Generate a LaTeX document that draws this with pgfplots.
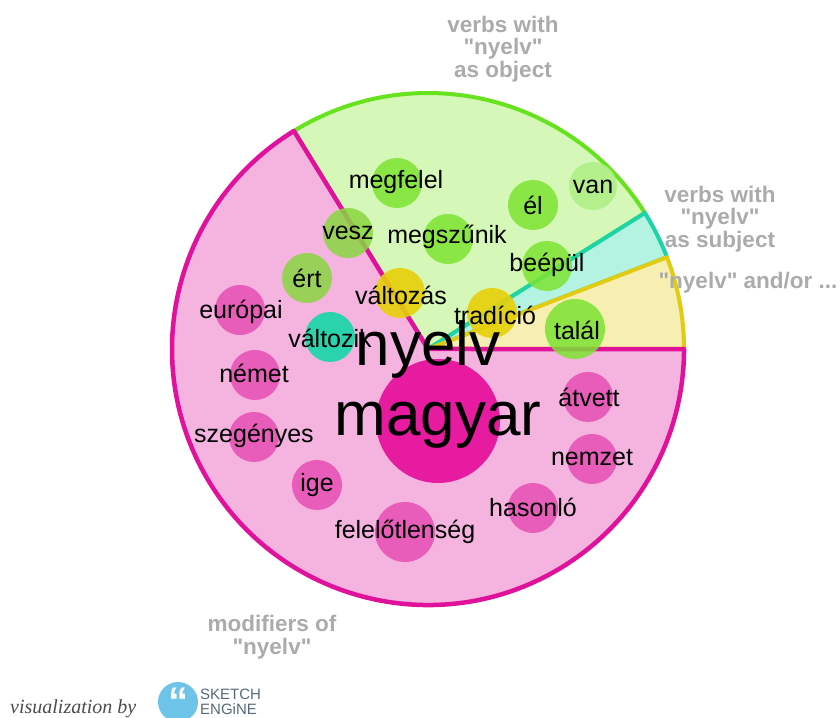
\documentclass[border=0pt]{standalone}
\usepackage{pgfplots}
\pgfplotsset{compat=1.18}
\usepackage{pgfplotstable}
\usepackage{fontspec}
\setmainfont{Liberation Sans}
\newfontfamily\serifit{Liberation Serif}

\definecolor{pinkfill}{HTML}{F5B3E0}
\definecolor{pinkline}{HTML}{E0119B}
\definecolor{greenfill}{HTML}{D5F8B8}
\definecolor{greenline}{HTML}{66E21E}
\definecolor{cyanfill}{HTML}{B4F2E2}
\definecolor{cyanline}{HTML}{1CD4A6}
\definecolor{yelfill}{HTML}{F7EFB2}
\definecolor{yelline}{HTML}{E2CC12}
\definecolor{bpink}{HTML}{E64DB4}
\definecolor{bmag}{HTML}{E6139C}
\definecolor{bgreen}{HTML}{7CE332}
\definecolor{blgreen}{HTML}{AEEF84}
\definecolor{bolive}{HTML}{8AD641}
\definecolor{byel}{HTML}{E6D008}
\definecolor{bteal}{HTML}{16D7A7}
\definecolor{titlegray}{HTML}{ABABAB}
\definecolor{logoblue}{HTML}{6EC3E8}
\definecolor{logotext}{HTML}{56687A}

\newcommand{\q}{\textquotedbl}

% bubbles: centre (px from left, px from bottom), radius, group
\pgfplotstableread{
x   y   r  cls
397 534 25 gr
593 531 24 lg
533 512 25 gr
348 484 25 ol
448 478 25 gr
547 451 25 gr
307 439 25 ol
400 424 25 ye
240 407 25 pk
492 404 25 ye
575 388 30 gr
330 380 25 te
255 342 25 pk
254 280 25 pk
438 296 62 mg
588 320 25 pk
592 258 25 pk
317 232 25 pk
533 209 25 pk
405 185 30 pk
}\bubbles

\pgfplotstableread{
x   y   label
396 535 megfelel
593 530 van
533 512 él
348 484 vesz
447 480 megszűnik
547 452 beépül
307 439 ért
401 422 változás
241 405 európai
495 402 tradíció
577 387 talál
330 379 változik
254 344 német
254 281 szegényes
589 320 átvett
592 259 nemzet
317 232 ige
533 210 hasonló
405 185 felelőtlenség
}\labels

\pgfplotstableread{
x   y   label
428 368 nyelv
438 292 magyar
}\biglabels

\begin{document}
\begin{tikzpicture}
\begin{axis}[
  name=ax,
  x=1pt, y=1pt,
  xmin=0, xmax=840, ymin=0, ymax=717,
  hide axis,
  clip=false,
]
% sectors (centre 428,368, radius 256)
\addplot[fill=greenfill, draw=greenline, line width=4pt, line join=round]
  coordinates {(428,368) (644.9,504.0)} arc[start angle=32.1, end angle=121.6, radius=256] -- cycle;
\addplot[fill=cyanfill, draw=cyanline, line width=4pt, line join=round]
  coordinates {(428,368) (667.0,459.7)} arc[start angle=21.0, end angle=32.1, radius=256] -- cycle;
\addplot[fill=yelfill, draw=yelline, line width=4pt, line join=round]
  coordinates {(428,368) (684,368)} arc[start angle=0, end angle=21.0, radius=256] -- cycle;
\addplot[fill=pinkfill, draw=pinkline, line width=4.5pt, line join=round]
  coordinates {(428,368) (293.9,586.0)} arc[start angle=121.6, end angle=360, radius=256] -- cycle;

% bubbles
\addplot[scatter, only marks, mark=*,
  scatter src=explicit symbolic,
  scatter/classes={
    pk={draw=bpink, fill=bpink, fill opacity=0.85, draw opacity=0},
    mg={draw=bmag, fill=bmag, fill opacity=0.95, draw opacity=0},
    gr={draw=bgreen, fill=bgreen, fill opacity=0.85, draw opacity=0},
    lg={draw=blgreen, fill=blgreen, fill opacity=0.85, draw opacity=0},
    ol={draw=bolive, fill=bolive, fill opacity=0.85, draw opacity=0},
    ye={draw=byel, fill=byel, fill opacity=0.9, draw opacity=0},
    te={draw=bteal, fill=bteal, fill opacity=0.9, draw opacity=0}},
  visualization depends on={\thisrow{r}\as\rad},
  scatter/@pre marker code/.append style={/tikz/mark size=\rad}]
  table[x=x, y=y, meta=cls] {\bubbles};

% word labels
\addplot[draw=none, mark=none, point meta=explicit symbolic,
  nodes near coords, nodes near coords align={center},
  every node near coord/.append style={anchor=center, text=black,
    font=\fontsize{25}{30}\selectfont, inner sep=0pt}]
  table[x=x, y=y, meta=label] {\labels};
\addplot[draw=none, mark=none, point meta=explicit symbolic,
  nodes near coords, nodes near coords align={center},
  every node near coord/.append style={anchor=center, text=black,
    font=\fontsize{62}{70}\selectfont, inner sep=0pt}]
  table[x=x, y=y, meta=label] {\biglabels};

% sector titles
\node[align=center, text=titlegray, font=\bfseries\fontsize{22.5}{22.5}\selectfont]
  at (axis cs:503,668) {verbs with\\\q nyelv\q\\as object};
\node[align=center, text=titlegray, font=\bfseries\fontsize{22.5}{22.5}\selectfont]
  at (axis cs:720,498) {verbs with\\\q nyelv\q\\as subject};
\node[align=center, text=titlegray, font=\bfseries\fontsize{22.5}{22.5}\selectfont]
  at (axis cs:748,434) {\q nyelv\q{} and/or ...};
\node[align=center, text=titlegray, font=\bfseries\fontsize{22.5}{22.5}\selectfont]
  at (axis cs:272,80) {modifiers of\\\q nyelv\q};

% footer
\node[anchor=base west, inner sep=0pt, text=black!70, font=\serifit\itshape\fontsize{20}{20}\selectfont]
  at (axis cs:10,4) {visualization by};
\node[circle, fill=logoblue, minimum size=40pt, inner sep=0pt, text=white,
  font=\bfseries\fontsize{40}{40}\selectfont] at (axis cs:178,15) {\raisebox{-12pt}{“}};
\node[anchor=base west, inner sep=0pt, text=logotext, font=\fontsize{15}{15}\selectfont]
  at (axis cs:200,17) {SKETCH};
\node[anchor=base west, inner sep=0pt, text=logotext, font=\fontsize{15}{15}\selectfont]
  at (axis cs:200,2) {ENGiNE};
\end{axis}
\pgfresetboundingbox
\path (ax.south west) rectangle (ax.north east);
\end{tikzpicture}
\end{document}
